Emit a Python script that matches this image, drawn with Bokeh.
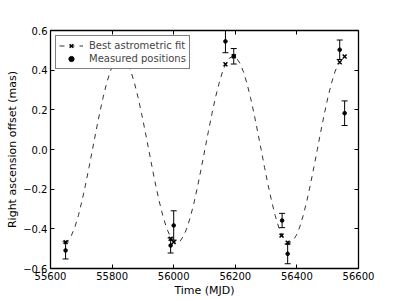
import numpy as np
from bokeh.plotting import figure
from bokeh.models import (ColumnDataSource, Whisker, TeeHead, LinearAxis, Range1d,
                          FixedTicker, CustomJSTickFormatter, Legend, LegendItem)
from bokeh.embed import file_html
from bokeh.resources import INLINE

# ---- data ----
fit_t = [55645.0, 55656.4, 55667.8, 55679.2, 55690.6, 55702.0, 55713.4, 55724.8,
         55736.3, 55747.7, 55759.1, 55770.5, 55781.9, 55793.3, 55804.7, 55816.1,
         55827.5, 55838.9, 55850.3, 55861.7, 55873.1, 55884.5, 55895.9, 55907.3,
         55918.8, 55930.2, 55941.6, 55953.0, 55964.4, 55975.8, 55987.2, 55998.6,
         56010.0, 56021.4, 56032.8, 56044.2, 56055.6, 56067.0, 56078.4, 56089.8,
         56101.3, 56112.7, 56124.1, 56135.5, 56146.9, 56158.3, 56169.7, 56181.1,
         56192.5, 56203.9, 56215.3, 56226.7, 56238.1, 56249.5, 56260.9, 56272.3,
         56283.8, 56295.2, 56306.6, 56318.0, 56329.4, 56340.8, 56352.2, 56363.6,
         56375.0, 56386.4, 56397.8, 56409.2, 56420.6, 56432.0, 56443.4, 56454.8,
         56466.3, 56477.7, 56489.1, 56500.5, 56511.9, 56523.3, 56534.7]
fit_y = [-0.470, -0.461, -0.434, -0.391, -0.332, -0.261, -0.180, -0.092,
         0.000, 0.092, 0.180, 0.261, 0.332, 0.391, 0.434, 0.461,
         0.470, 0.461, 0.434, 0.391, 0.332, 0.261, 0.180, 0.092,
         0.000, -0.092, -0.180, -0.261, -0.332, -0.391, -0.434, -0.461,
         -0.470, -0.461, -0.434, -0.391, -0.332, -0.261, -0.180, -0.092,
         0.000, 0.092, 0.180, 0.261, 0.332, 0.391, 0.434, 0.461,
         0.470, 0.461, 0.434, 0.391, 0.332, 0.261, 0.180, 0.092,
         0.000, -0.092, -0.180, -0.261, -0.332, -0.391, -0.434, -0.461,
         -0.470, -0.461, -0.434, -0.391, -0.332, -0.261, -0.180, -0.092,
         0.000, 0.092, 0.180, 0.261, 0.332, 0.391, 0.434]

epoch_t = [55649, 55990, 56000, 56168, 56195, 56350, 56370, 56539, 56555]
fit_at_epoch = [-0.467, -0.450, -0.467, 0.430, 0.470, -0.434, -0.470, 0.440, 0.469]

meas_t = [55649, 55990, 56000, 56168, 56195, 56352, 56370, 56539, 56555]
meas_y = [-0.509, -0.484, -0.383, 0.545, 0.470, -0.358, -0.526, 0.503, 0.183]
meas_err = [0.043, 0.038, 0.074, 0.057, 0.039, 0.036, 0.050, 0.049, 0.062]

x_ticks = [55600, 55800, 56000, 56200, 56400, 56600]
y_ticks = [-0.6, -0.4, -0.2, 0.0, 0.2, 0.4, 0.6]

FONT = "DejaVu Sans"

p = figure(width=399, height=299, x_range=Range1d(55600, 56600), y_range=Range1d(-0.6, 0.6),
           output_backend="svg", toolbar_location=None,
           min_border_left=50, min_border_right=41, min_border_top=30, min_border_bottom=31)
p.background_fill_color = "white"
p.border_fill_color = "white"
p.xgrid.visible = False
p.ygrid.visible = False
p.outline_line_color = "black"
p.outline_line_width = 1.3

# fit curve
fit_line = p.line(fit_t, fit_y, line_color="#333333", line_width=1, line_dash="5 5")
fit_pts = p.scatter(epoch_t, fit_at_epoch, marker="x", size=5.5, line_color="black", line_width=1.5)

# measured positions with error bars
src = ColumnDataSource(dict(t=meas_t, y=meas_y,
                            lo=[v - e for v, e in zip(meas_y, meas_err)],
                            hi=[v + e for v, e in zip(meas_y, meas_err)]))
wh = Whisker(source=src, base="t", upper="hi", lower="lo", line_color="black", line_width=1,
             upper_head=TeeHead(size=6, line_color="black", line_width=1),
             lower_head=TeeHead(size=6, line_color="black", line_width=1))
p.add_layout(wh)
meas_pts = p.scatter("t", "y", source=src, marker="circle", size=3.6, color="black")

# legend-only glyph for the error bar icon
leg_bar = p.scatter([np.nan], [np.nan], marker="dash", angle=np.pi / 2, size=11,
                    line_color="black", line_width=1)

legend = Legend(items=[
    LegendItem(label="Best astrometric fit", renderers=[fit_line, fit_pts]),
    LegendItem(label="Measured positions", renderers=[leg_bar, meas_pts]),
], location="top_left")
legend.label_text_font = FONT
legend.label_text_font_size = "10px"
legend.border_line_color = "black"
legend.border_line_width = 1
legend.background_fill_alpha = 1
legend.margin = 5
legend.padding = 3
legend.spacing = 0
legend.label_height = 12
legend.glyph_height = 13
legend.glyph_width = 24
legend.label_standoff = 6
p.add_layout(legend)

# axes styling
p.xaxis.ticker = FixedTicker(ticks=x_ticks)
p.yaxis.ticker = FixedTicker(ticks=y_ticks)
p.yaxis.formatter = CustomJSTickFormatter(code="return tick.toFixed(1).replace('-', '\u2212');")
p.xaxis.axis_label = "Time (MJD)"
p.yaxis.axis_label = "Right ascension offset (mas)"

for ax in [p.xaxis[0], p.yaxis[0]]:
    ax.major_tick_in = 4
    ax.major_tick_out = 0
    ax.minor_tick_in = 0
    ax.minor_tick_out = 0
    ax.axis_line_color = None
    ax.major_tick_line_color = "black"
    ax.major_label_text_font = FONT
    ax.major_label_text_font_size = "10px"
    ax.major_label_text_color = "black"
    ax.axis_label_text_font = FONT
    ax.axis_label_text_font_size = "11px"
    ax.axis_label_text_font_style = "normal"
    ax.axis_label_text_color = "black"
    ax.major_label_standoff = 3
    ax.axis_label_standoff = 1

blank = CustomJSTickFormatter(code="return '';")
right_ax = LinearAxis(ticker=FixedTicker(ticks=y_ticks), formatter=blank)
top_ax = LinearAxis(ticker=FixedTicker(ticks=x_ticks), formatter=blank)
for ax in [right_ax, top_ax]:
    ax.major_tick_in = 4
    ax.major_tick_out = 0
    ax.minor_tick_in = 0
    ax.minor_tick_out = 0
    ax.axis_line_color = None
    ax.major_label_standoff = 0
    ax.major_label_text_font_size = "1px"
p.add_layout(right_ax, "right")
p.add_layout(top_ax, "above")

open("out.html", "w").write(file_html(p, INLINE))
